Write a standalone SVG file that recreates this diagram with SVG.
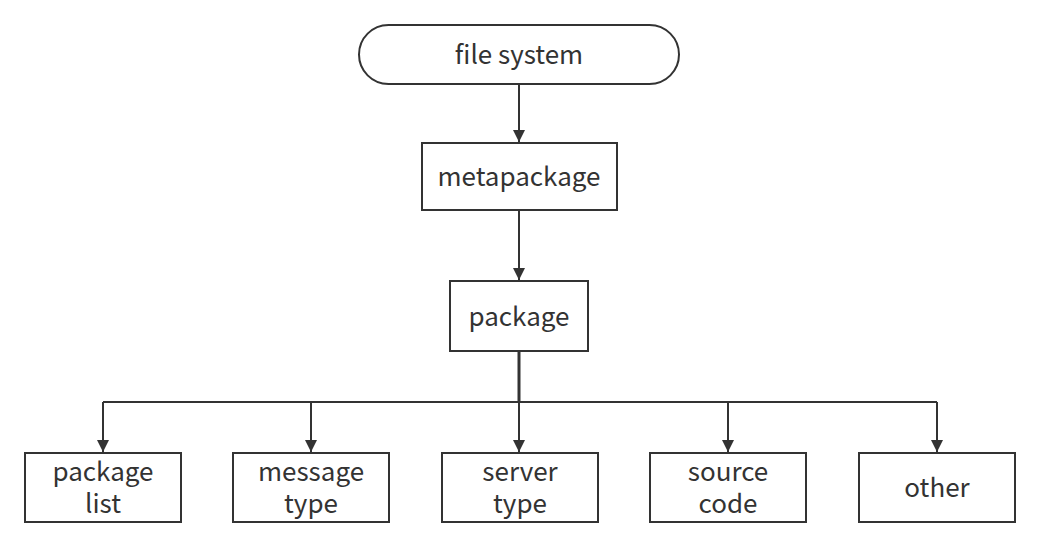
<svg xmlns="http://www.w3.org/2000/svg" width="1038" height="548" viewBox="0 0 1038 548">
<style>
.n{fill:#fff;stroke:#333;stroke-width:2}
.t{font-family:"Noto Sans CJK SC","Noto Sans",sans-serif;font-size:26px;fill:#333;text-anchor:middle}
.c{fill:none;stroke:#333;stroke-width:2}
</style>
<defs>
<marker id="ah" markerWidth="12" markerHeight="14" refX="12" refY="6" orient="auto" markerUnits="userSpaceOnUse">
<path d="M0,0 L12,6 L0,12 Z" fill="#333"/>
</marker>
</defs>
<rect width="1038" height="548" fill="#fff"/>
<g id="connectors">
<path class="c" d="M519,84 V142" marker-end="url(#ah)"/>
<path class="c" d="M519,210 V280" marker-end="url(#ah)"/>
<path class="c" d="M519,351 V402" style="stroke-width:3"/>
<path class="c" d="M103,402 H937"/>
<path class="c" d="M103,402 V452" marker-end="url(#ah)"/>
<path class="c" d="M311,402 V452" marker-end="url(#ah)"/>
<path class="c" d="M519,402 V452" marker-end="url(#ah)"/>
<path class="c" d="M728,402 V452" marker-end="url(#ah)"/>
<path class="c" d="M937,402 V452" marker-end="url(#ah)"/>
</g>
<g id="filesystem"><rect class="n" x="359" y="25" width="320" height="59" rx="29.5"/><text class="t" x="519" y="64">file system</text></g>
<g id="metapackage"><rect class="n" x="422" y="143" width="195" height="67"/><text class="t" x="519" y="186">metapackage</text></g>
<g id="package"><rect class="n" x="450" y="281" width="138" height="70"/><text class="t" x="519" y="326">package</text></g>
<g id="packagelist"><rect class="n" x="25" y="453" width="156" height="69"/><text class="t" x="103" y="481">package</text><text class="t" x="103" y="513">list</text></g>
<g id="messagetype"><rect class="n" x="233" y="453" width="156" height="69"/><text class="t" x="311" y="481">message</text><text class="t" x="311" y="513">type</text></g>
<g id="servertype"><rect class="n" x="442" y="453" width="156" height="69"/><text class="t" x="520" y="481">server</text><text class="t" x="520" y="513">type</text></g>
<g id="sourcecode"><rect class="n" x="650" y="453" width="156" height="69"/><text class="t" x="728" y="481">source</text><text class="t" x="728" y="513">code</text></g>
<g id="other"><rect class="n" x="859" y="453" width="156" height="69"/><text class="t" x="937" y="497">other</text></g>
</svg>
